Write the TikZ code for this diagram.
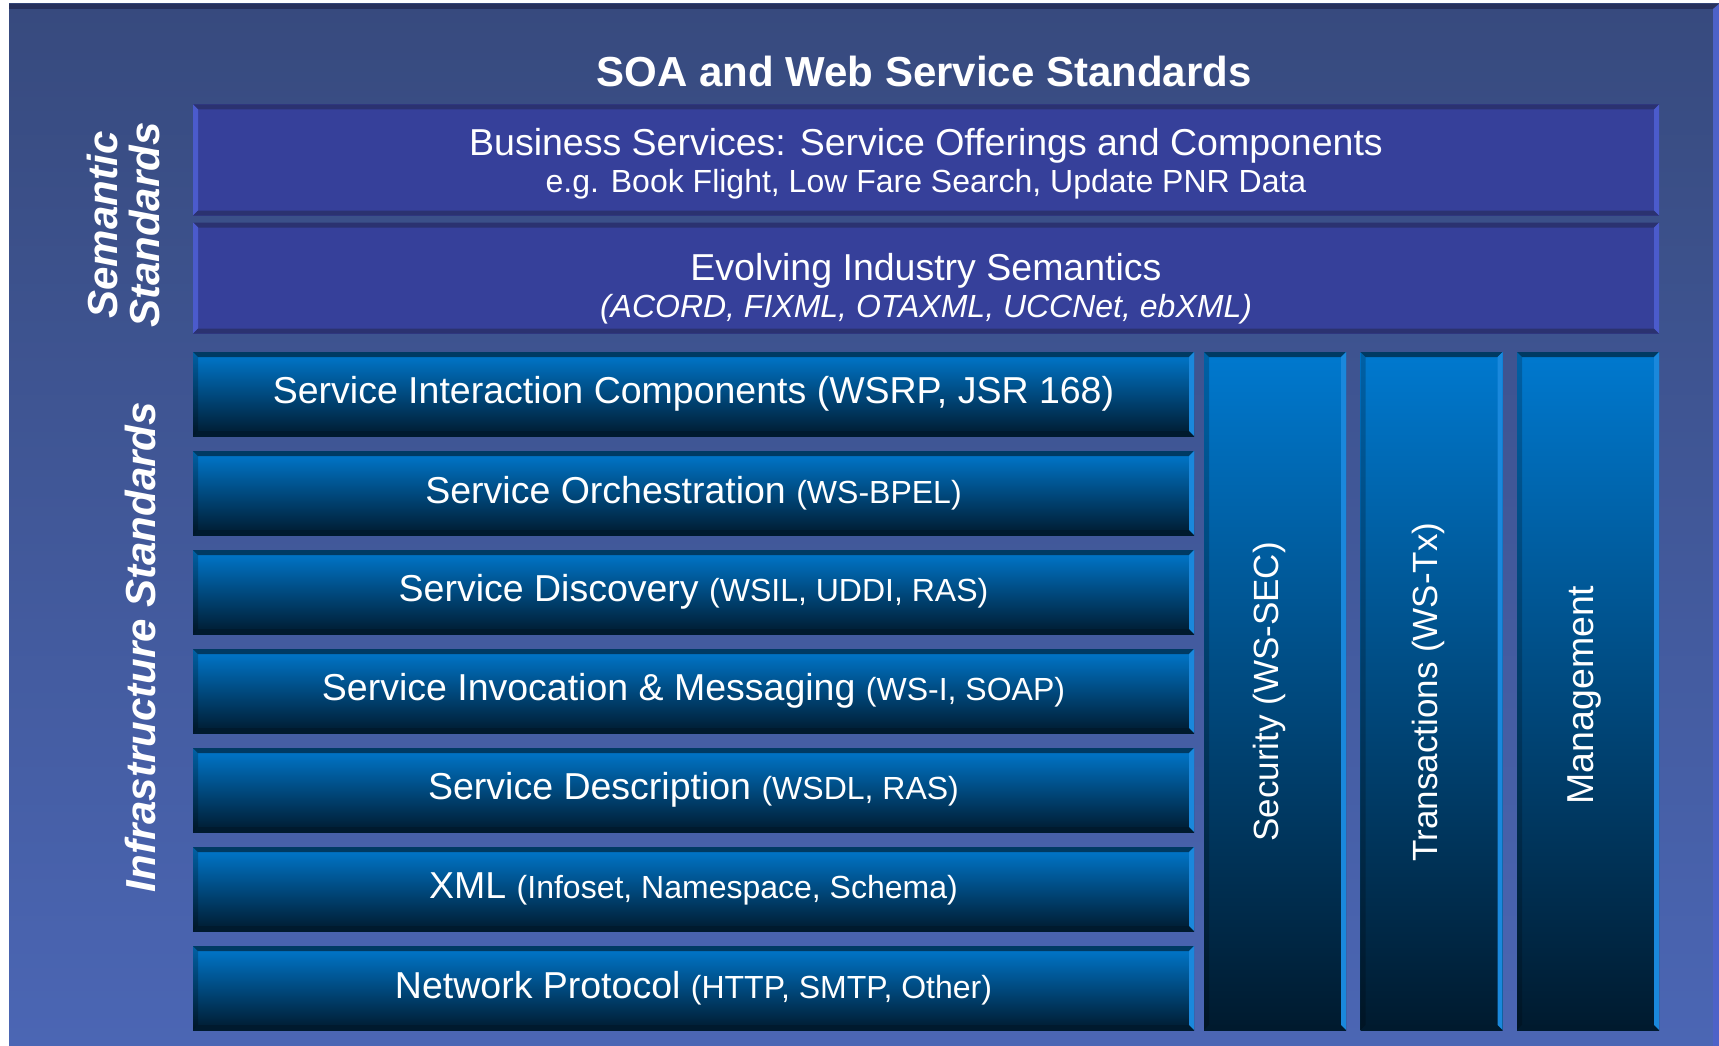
\documentclass[tikz,border=0pt]{standalone}
\usepackage{fontspec}
\setmainfont{Liberation Sans}
\definecolor{bgtop}{HTML}{374A7E}
\definecolor{bgbot}{HTML}{4B66B4}
\definecolor{bgdark}{HTML}{27315C}
\definecolor{bglight}{HTML}{4D62C8}
\definecolor{semfill}{HTML}{36409A}
\definecolor{semdark}{HTML}{2B3270}
\definecolor{semlight}{HTML}{4B5BCC}
\definecolor{blutop}{HTML}{0079CF}
\definecolor{blubot}{HTML}{001A2E}
\definecolor{bludark}{HTML}{003A63}
\definecolor{blulight}{HTML}{1A88DC}
\newcommand{\lbig}{\fontsize{37.5}{42}\selectfont}
\newcommand{\lsub}{\fontsize{32}{38}\selectfont}
\newcommand{\lvert}{\fontsize{35}{40}\selectfont}
\newcommand{\lhead}{\fontsize{42}{44}\selectfont\bfseries}
\newcommand{\lside}{\fontsize{42}{42}\selectfont\bfseries\itshape}
\tikzset{
  bevel/.style n args={4}{path picture={
    \coordinate (bnw) at (path picture bounding box.north west);
    \coordinate (bne) at (path picture bounding box.north east);
    \coordinate (bsw) at (path picture bounding box.south west);
    \coordinate (bse) at (path picture bounding box.south east);
    \fill[#1] (bnw) -- (bne) -- ([shift={(-5pt,-5pt)}]bne) -- ([shift={(5pt,-5pt)}]bnw) -- cycle;
    \fill[#2] (bnw) -- (bsw) -- ([shift={(5pt,5pt)}]bsw) -- ([shift={(5pt,-5pt)}]bnw) -- cycle;
    \fill[#3] (bsw) -- (bse) -- ([shift={(-5pt,5pt)}]bse) -- ([shift={(5pt,5pt)}]bsw) -- cycle;
    \fill[#4] (bne) -- (bse) -- ([shift={(-5pt,5pt)}]bse) -- ([shift={(-5pt,-5pt)}]bne) -- cycle;
  }},
  sembar/.style={minimum width=1466pt, minimum height=111pt, inner sep=0pt, fill=semfill,
    bevel={semdark}{semlight}{semdark}{semlight}},
  semlbl/.style={text=white, align=center, inner sep=0pt},
  hbar/.style={minimum width=1001pt, minimum height=84pt, inner sep=0pt,
    top color=blutop, bottom color=blubot, text=white, font=\lbig,
    bevel={bludark}{{black,opacity=.2}}{blubot}{blulight}},
  vbar/.style={minimum width=142pt, minimum height=678pt, inner sep=0pt,
    top color=blutop, bottom color=blubot,
    bevel={bludark}{{black,opacity=.2}}{blubot}{blulight}},
  vlbl/.style={rotate=90, text=white, font=\lvert, inner sep=0pt},
  sidelbl/.style={rotate=90, text=white, font=\lside, align=center, inner sep=0pt}
}
\begin{document}
\begin{tikzpicture}[x=1pt, y=-1pt]
\useasboundingbox (0,0) rectangle (1719,1046);
\fill[top color=bgtop, bottom color=bgbot] (9,4) rectangle (1719,1046);
\fill[bgdark] (9,4) -- (1719,4) -- (1713,9) -- (9,9) -- cycle;
\fill[bglight] (1719,4) -- (1719,1046) -- (1713,1046) -- (1713,9) -- cycle;

\node[font=\lhead, text=white] (title) at (924,71) {SOA and Web Service Standards};

\node[sembar] (busn) at (926,160) {};
\node[sembar] (evol) at (926,278) {};
\node[semlbl] (busnlbl) at (926,163.5) {{\lbig Business Services: Service Offerings and Components}\\[4.5pt]
  {\lsub e.g. Book Flight, Low Fare Search, Update PNR Data}};
\node[semlbl] (evollbl) at (926,288.5) {{\lbig Evolving Industry Semantics}\\[4.5pt]
  {\lsub\itshape (ACORD, FIXML, OTAXML, UCCNet, ebXML)}};

\foreach \i/\nm/\big/\small in {
  0/sic/{Service Interaction Components (WSRP, JSR 168)}/{},
  1/orch/{Service Orchestration}/{(WS-BPEL)},
  2/disc/{Service Discovery}/{(WSIL, UDDI, RAS)},
  3/invk/{Service Invocation \& Messaging}/{(WS-I, SOAP)},
  4/desc/{Service Description}/{(WSDL, RAS)},
  5/xml/{XML}/{(Infoset, Namespace, Schema)},
  6/net/{Network Protocol}/{(HTTP, SMTP, Other)}}
  \node[hbar] (\nm) at (693.5,{394+99*\i}) {\big\ {\lsub\small}};

\node[vbar] (sec) at (1275,691) {};
\node[vbar] (tx) at (1431.5,691) {};
\node[vbar] (mgmt) at (1588,691) {};
\node[vlbl] (seclbl) at (1269,692) {Security (WS-SEC)};
\node[vlbl] (txlbl) at (1428,692) {Transactions (WS-Tx)};
\node[vlbl, font=\lbig] (mgmtlbl) at (1584,695) {Management};

\node[sidelbl] (semlbl) at (123,225) {Semantic\\Standards};
\node[sidelbl] (inflbl) at (140,647) {Infrastructure Standards};
\end{tikzpicture}
\end{document}
